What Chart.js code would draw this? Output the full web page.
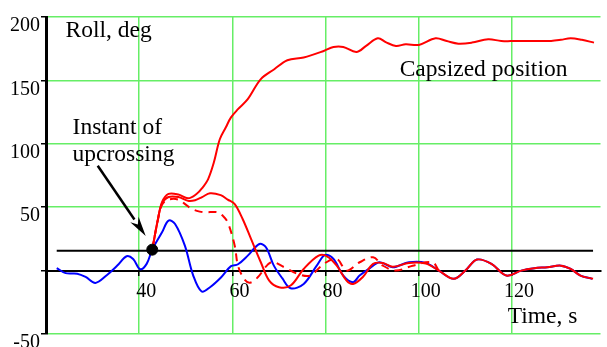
<!DOCTYPE html>
<html>
<head>
<meta charset="utf-8">
<script src="https://cdn.jsdelivr.net/npm/chart.js@4.4.1/dist/chart.umd.min.js"></script>
<style>
    html, body { margin: 0; padding: 0; background: #fff; }
</style>
</head>
<body>
<canvas id="graficoRoll" width="607" height="347"></canvas>
<script>
// Eixos
var ticksTempo = [40, 60, 80, 100, 120]
var ticksRoll = [-50, 0, 50, 100, 150, 200]

// Curva que emborca (vermelha, sobe até ~180)
var capsizeT = [42.8, 44.0, 44.9, 46.3, 48.4, 50.5, 52.3, 53.5, 54.8, 56.0, 57.3, 58.6, 59.7, 61.2, 63.3, 66.1, 69.0, 71.8, 75.3, 79.6, 81.7, 83.8, 86.6, 88.7, 91.2, 93.0, 95.1, 97.2, 100.0, 103.6, 106.0, 108.5, 111.4, 114.9, 117.7, 120.5, 123.4, 126.0, 128.4, 130.5, 132.6, 135.0, 137.6]
var capsizeRoll = [16.5, 40, 54, 60.5, 60, 57, 60.4, 65, 72.2, 85, 103.6, 113, 120.8, 127.3, 135.2, 151, 158.8, 165.9, 168, 173.2, 176.4, 176.4, 172.4, 177.2, 183.2, 180, 177.2, 178.5, 178, 183.2, 181, 179, 179.8, 182.4, 181.1, 181, 181.1, 181, 181.1, 182, 183.2, 182, 179.8]

// Curva vermelha contínua que não emborca
var redT = [42.8, 44.0, 44.9, 46.3, 48.4, 50.5, 52.0, 53.5, 55.2, 57.5, 59.0, 60.5, 62.2, 64.0, 66.1, 67.9, 70.0, 72.5, 75.3, 78.5, 80.3, 82.4, 84.5, 85.9, 88.0, 90.2, 92.3, 94.4, 97.9, 101.5, 104.3, 107.5, 110.0, 112.5, 115.6, 118.8, 122.0, 124.8, 127.6, 130.5, 132.6, 134.7, 137.4]
var redRoll = [16.5, 40, 53, 58, 58, 55, 55.5, 58, 61, 59.5, 56, 52.5, 40.7, 25, 6.6, -7.9, -13.1, -11.8, 1.3, 11.8, 11.3, 3.9, -7.9, -10.5, -5, 5.3, 6, 3, 6, 5.5, 0, -6.5, 0, 8.7, 5.3, -3.9, 0, 1.9, 2.7, 3.9, 1.3, -3.9, -6.5]

// Curva vermelha tracejada
var dashT = [42.8, 44.0, 44.9, 46.3, 48.4, 50.0, 51.3, 53.0, 54.1, 56.9, 58.0, 59.0, 60.5, 61.2, 62.6, 63.8, 65.4, 68.3, 71.1, 74.0, 76.7, 79.6, 82.4, 84.5, 87.3, 90.2, 92.3, 95.1, 98.7, 102.9, 104.3]
var dashRoll = [16.5, 40, 52, 56, 56, 52, 48.6, 46.5, 46, 46, 43, 38.1, 19.7, 3.9, -7, -9.5, -5.5, 6.6, 2.7, -2.6, -3.9, 5.3, 9.2, 0, 6.6, 10.5, 3.9, 0, 3.9, 6.6, 0]

// Curva azul
var blueT = [22.3, 24.2, 26.7, 28.5, 30.6, 33.1, 35.3, 37.3, 38.7, 40.2, 41.6, 42.8, 44.9, 46.3, 47.7, 49.8, 51.6, 53.4, 55.2, 57.6, 59.7, 61.2, 63.3, 65.8, 67.2, 68.9, 70.7, 72.5, 75.3, 78.1, 79.9, 81.7, 83.8, 85.9, 87.3, 89.5, 91.6, 94.4, 97.9, 101.5, 104.3, 107.5, 110.0, 112.5, 115.6, 118.8, 122.0, 124.8, 127.6, 130.5, 132.6, 134.7, 137.2]
var blueRoll = [2, -2, -2.4, -5, -9.7, -3.4, 4, 11.3, 9.2, 1.1, 5.3, 16.5, 30.2, 39.4, 36.8, 19.7, -3.9, -16.5, -13.1, -5.2, 3.5, 5, 11.8, 21, 18.4, 3.9, -6, -13.9, -10.5, 3.9, 12.4, 9.2, -3.9, -9.1, -3.9, 2, 6.6, 2.7, 6.6, 6.1, 0, -6.5, 0, 8.7, 5.3, -3.9, 0, 1.9, 2.7, 3.9, 1.3, -3.9, -6.5]

// Linha de limiar e instante de cruzamento
var limiarT = [22.3, 137.4]
var limiarRoll = [15.7, 15.7]
var instanteT = [42.8]
var instanteRoll = [16.5]

function pontos(tx, ty) {
    return tx.map((t, i) => ({ x: t, y: ty[i] }))
}

var fonteTexto = '23.5px "Liberation Serif", "Times New Roman", serif'

// Textos e seta desenhados sobre o gráfico
const anotacoes = {
    id: 'anotacoes',
    afterDatasetsDraw(chart) {
        const ctx = chart.ctx
        const x = chart.scales.x
        const y = chart.scales.y
        ctx.save()
        ctx.fillStyle = '#000'
        ctx.font = fonteTexto
        ctx.textBaseline = 'alphabetic'
        ctx.textAlign = 'left'
        ctx.fillText('Roll, deg', x.getPixelForValue(24.2), y.getPixelForValue(184))
        ctx.fillText('Capsized position', x.getPixelForValue(95.9), y.getPixelForValue(153.1))
        ctx.fillText('Instant of', x.getPixelForValue(25.7), y.getPixelForValue(107.6))
        ctx.fillText('upcrossing', x.getPixelForValue(25.7), y.getPixelForValue(86.6))
        ctx.fillText('Time, s', x.getPixelForValue(119.1), y.getPixelForValue(-41.4))

        // seta
        var x0 = x.getPixelForValue(31.1), y0 = y.getPixelForValue(82.7)
        var x1 = x.getPixelForValue(41.4), y1 = y.getPixelForValue(27.3)
        var ang = Math.atan2(y1 - y0, x1 - x0)
        var comp = 20, larg = 5
        var bx = x1 - comp * Math.cos(ang), by = y1 - comp * Math.sin(ang)
        ctx.strokeStyle = '#000'
        ctx.lineWidth = 2.5
        ctx.beginPath()
        ctx.moveTo(x0, y0)
        ctx.lineTo(bx, by)
        ctx.stroke()
        ctx.beginPath()
        ctx.moveTo(x1, y1)
        ctx.lineTo(bx + larg * Math.sin(ang), by - larg * Math.cos(ang))
        ctx.lineTo(x1 - comp * 0.7 * Math.cos(ang), y1 - comp * 0.7 * Math.sin(ang))
        ctx.lineTo(bx - larg * Math.sin(ang), by + larg * Math.cos(ang))
        ctx.closePath()
        ctx.fill()
        ctx.restore()
    }
}

var verde = '#66ee66'

const ctxRoll = document.getElementById('graficoRoll').getContext('2d')
const graficoRoll = new Chart(ctxRoll, {
    type: 'line',
    data: {
        datasets: [
            { data: pontos(instanteT, instanteRoll), showLine: false, pointRadius: 5.5, pointBackgroundColor: '#000', pointBorderColor: '#000' },
            { data: pontos(capsizeT, capsizeRoll), borderColor: '#ff0000', borderWidth: 2 },
            { data: pontos(redT, redRoll), borderColor: '#ff0000', borderWidth: 2 },
            { data: pontos(dashT, dashRoll), borderColor: '#ff0000', borderWidth: 2, borderDash: [8, 6] },
            { data: pontos(blueT, blueRoll), borderColor: '#0000ff', borderWidth: 2 },
            { data: pontos(limiarT, limiarRoll), borderColor: '#000', borderWidth: 2, tension: 0 }
        ]
    },
    options: {
        responsive: false,
        animation: false,
        layout: { padding: { top: 17, bottom: 12, left: 0, right: 0 } },
        plugins: { legend: { display: false }, tooltip: { enabled: false } },
        elements: {
            point: { radius: 0 },
            line: { tension: 0.35, fill: false }
        },
        scales: {
            x: {
                type: 'linear',
                min: 20,
                max: 139,
                position: { y: 0 },
                afterBuildTicks: (s) => { s.ticks = ticksTempo.map(v => ({ value: v })) },
                afterFit: (s) => { s.height = 0 },
                grid: { color: verde, lineWidth: 1.5, tickLength: 4, tickColor: '#000' },
                border: { color: '#000', width: 2 },
                ticks: {
                    color: '#000',
                    font: { family: 'Liberation Serif', size: 20 },
                    labelOffset: 7,
                    padding: 5,
                    maxRotation: 0,
                    autoSkip: false
                }
            },
            y: {
                min: -50,
                max: 200,
                afterBuildTicks: (s) => { s.ticks = ticksRoll.map(v => ({ value: v })) },
                afterFit: (s) => { s.width = 46 },
                grid: {
                    color: (c) => (c.tick && c.tick.value === 0) ? 'rgba(0,0,0,0)' : verde,
                    lineWidth: 1.5,
                    tickLength: 5,
                    tickColor: '#000'
                },
                border: { color: '#000', width: 3 },
                ticks: {
                    color: '#000',
                    font: { family: 'Liberation Serif', size: 20 },
                    labelOffset: 9,
                    padding: 1,
                    callback: (v) => v === 0 ? '' : v
                }
            }
        }
    },
    plugins: [anotacoes]
})
</script>
</body>
</html>
